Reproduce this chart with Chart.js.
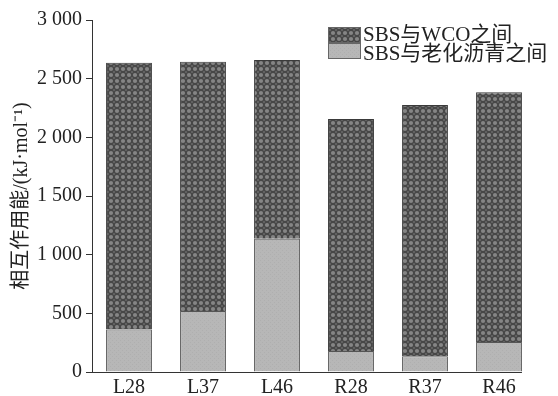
<!DOCTYPE html>
<html>
<head>
<meta charset="utf-8">
<script src="https://cdn.jsdelivr.net/npm/chart.js@4/dist/chart.umd.min.js"></script>
<style>
  html, body { margin: 0; padding: 0; background: #fff; }
  #wrap { width: 558px; height: 396px; }
</style>
</head>
<body>
<div id="wrap"><canvas id="c" width="558" height="396"></canvas></div>
<script>
/* ── Data ─────────────────────────────────────────────────── */
const categories = ['L28', 'L37', 'L46', 'R28', 'R37', 'R46'];
const agedVals = [363, 520, 1135, 180, 135, 255];      // SBS与老化沥青之间
const wcoVals = [2273, 2125, 1525, 1976, 2141, 2130];  // SBS与WCO之间
const yTicks = [0, 500, 1000, 1500, 2000, 2500, 3000];

const FONT = '"Liberation Serif", "Noto Sans CJK SC", serif';

/* ── Fill patterns ────────────────────────────────────────── */
function makeHatch() {
    const p = document.createElement('canvas');
    p.width = 6; p.height = 6;
    const g = p.getContext('2d');
    g.fillStyle = '#474747';
    g.fillRect(0, 0, 6, 6);
    g.fillStyle = '#858585';
    g.beginPath(); g.arc(3, 3, 2.1, 0, Math.PI * 2); g.fill();
    g.beginPath();
    [[0, 0], [6, 0], [0, 6], [6, 6]].forEach(([x, y]) => { g.moveTo(x, y); g.arc(x, y, 0.8, 0, Math.PI * 2); });
    g.fill();
    return g.createPattern(p, 'repeat');
}
function makeLight() {
    const p = document.createElement('canvas');
    p.width = 4; p.height = 4;
    const g = p.getContext('2d');
    g.fillStyle = '#b7b7b7';
    g.fillRect(0, 0, 4, 4);
    g.fillStyle = '#afafaf';
    g.fillRect(0, 0, 1, 1); g.fillRect(2, 2, 1, 1);
    return g.createPattern(p, 'repeat');
}
const hatch = makeHatch();
const light = makeLight();

/* ── Plugins: x axis line + legend ────────────────────────── */
const extras = {
    id: 'extras',
    afterDatasetsDraw(chart) {
        const { ctx, chartArea } = chart;
        const meta = chart.getDatasetMeta(1);
        const last = meta.data[meta.data.length - 1];
        const right = last.x + last.width / 2;
        ctx.save();
        ctx.strokeStyle = '#333';
        ctx.lineWidth = 1;
        ctx.beginPath();
        ctx.moveTo(chartArea.left, chartArea.bottom + 0.5);
        ctx.lineTo(right, chartArea.bottom + 0.5);
        ctx.stroke();

        // legend
        const items = [chart.data.datasets[1], chart.data.datasets[0]];
        const bx = 328, bw = 33;
        const rows = [{ y: 27, h: 16, ty: 35 }, { y: 43, h: 16, ty: 54 }];
        ctx.font = '21px ' + FONT;
        ctx.textBaseline = 'middle';
        items.forEach((ds, i) => {
            const r = rows[i];
            ctx.fillStyle = ds.backgroundColor;
            ctx.fillRect(bx, r.y, bw, r.h);
            ctx.strokeStyle = '#666';
            ctx.strokeRect(bx + 0.5, r.y + 0.5, bw - 1, r.h - 1);
            ctx.fillStyle = '#222';
            ctx.fillText(ds.label, bx + bw + 2, r.ty);
        });
        ctx.restore();
    }
};

/* ── Chart ────────────────────────────────────────────────── */
new Chart(document.getElementById('c'), {
    type: 'bar',
    data: {
        labels: categories,
        datasets: [
            { label: 'SBS与老化沥青之间', data: agedVals, backgroundColor: light, borderColor: '#555', borderWidth: 1 },
            { label: 'SBS与WCO之间', data: wcoVals, backgroundColor: hatch, borderColor: '#3a3a3a', borderWidth: 1 },
        ],
    },
    options: {
        responsive: false,
        animation: false,
        devicePixelRatio: 1,
        layout: { padding: { left: 0, right: 22, top: 20, bottom: 0 } },
        datasets: { bar: { barPercentage: 0.62, categoryPercentage: 1 } },
        plugins: { legend: { display: false }, tooltip: { enabled: false } },
        scales: {
            x: {
                stacked: true,
                grid: { display: false, drawTicks: false, tickLength: 0 },
                border: { display: false },
                ticks: { color: '#222', padding: 4, font: { family: FONT, size: 20 } },
                afterFit: s => { s.height = 24; },
            },
            y: {
                stacked: true,
                min: 0, max: 3000,
                afterBuildTicks: s => { s.ticks = yTicks.map(v => ({ value: v })); },
                grid: { drawOnChartArea: false, tickLength: 6, color: '#333' },
                border: { display: true, color: '#333', width: 1 },
                ticks: {
                    color: '#222', padding: 4,
                    font: { family: FONT, size: 20 },
                    callback: v => String(v).replace(/\B(?=(\d{3})+(?!\d))/g, ' '),
                },
                title: {
                    display: true,
                    text: '相互作用能/(kJ·mol⁻¹)',
                    color: '#222',
                    font: { family: FONT, size: 20 },
                    padding: { top: 10, bottom: 0 },
                },
                afterFit: s => { s.width = 92; },
            },
        },
    },
    plugins: [extras],
});
</script>
</body>
</html>
